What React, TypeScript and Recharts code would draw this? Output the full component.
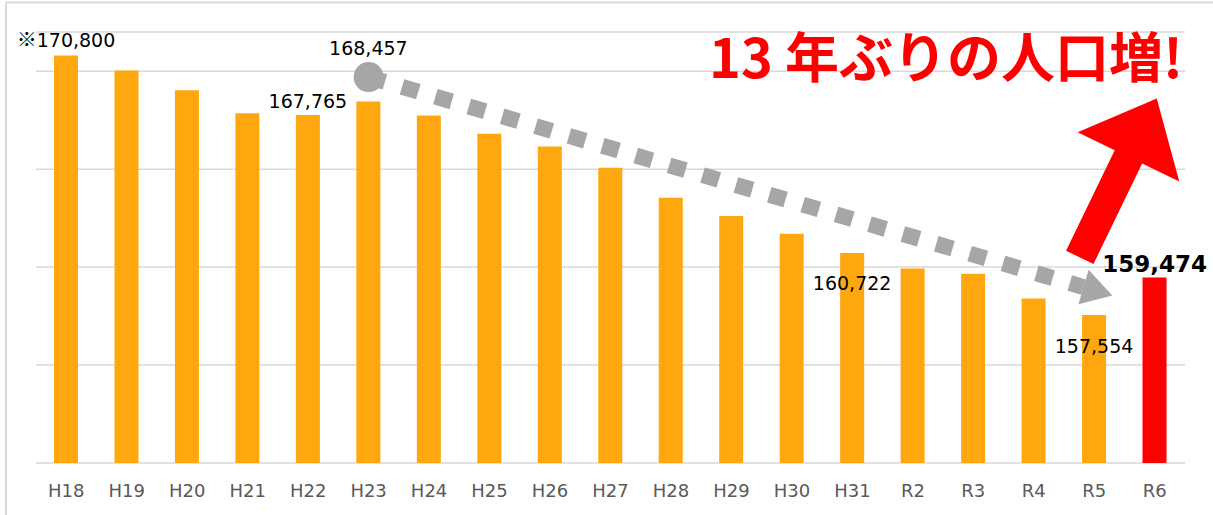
import React from 'react';
import {
  BarChart,
  Bar,
  XAxis,
  YAxis,
  CartesianGrid,
  Cell,
  LabelList,
  ReferenceDot,
  ReferenceLine,
  Customized,
} from 'recharts';

// ---- data ----
const categories = ['H18', 'H19', 'H20', 'H21', 'H22', 'H23', 'H24', 'H25', 'H26', 'H27', 'H28', 'H29', 'H30', 'H31', 'R2', 'R3', 'R4', 'R5', 'R6'];
const population = [170800, 170030, 169031, 167857, 167765, 168457, 167740, 166806, 166158, 165071, 163541, 162602, 161704, 160722, 159934, 159663, 158403, 157554, 159474];
const yTicks = [150000, 155000, 160000, 165000, 170000];
const yDomain = [150000, 172000];
const highlightCategory = 'R6';
const titleText = '13 年ぶりの人口増!';
// trend annotation anchors (category, value)
const trendStart = { category: 'H23', value: 169700 };
const trendEnd = { category: 'R6', value: 157912 };
const labelledCategories = ['H18', 'H22', 'H23', 'H31', 'R5', 'R6'];

const data = categories.map((c, i) => ({ category: c, population: population[i] }));

const FONT = '"DejaVu Sans", Verdana, sans-serif';
const CJK = '"Noto Sans CJK JP", sans-serif';
const W = 1213;
const H = 515;

const labelStyle: Record<string, { dy: number; prefix?: string; bold?: boolean }> = {
  H18: { dy: -9, prefix: '※' },
  H22: { dy: -7 },
  H23: { dy: -46 },
  H31: { dy: 37 },
  R5: { dy: 37.5 },
  R6: { dy: -5, bold: true },
};

const renderLabel = (props: any) => {
  const vb = props.viewBox || {};
  const x = props.x ?? vb.x;
  const y = props.y ?? vb.y;
  const width = props.width ?? vb.width;
  const idx = props.index;
  const cat = categories[idx];
  if (!labelledCategories.includes(cat)) return null;
  const st = labelStyle[cat];
  const txt = Number(props.value).toLocaleString('en-US');
  return (
    <text
      x={x + width / 2}
      y={y + st.dy}
      textAnchor="middle"
      fontFamily={FONT}
      fontSize={st.bold ? 23 : 19}
      fontWeight={st.bold ? 'bold' : 'normal'}
      fill="#000"
    >
      {st.prefix ? <tspan fontFamily={CJK} fontSize={20}>{st.prefix}</tspan> : null}
      <tspan>{txt}</tspan>
    </text>
  );
};

const TrendArrow = (props: any) => {
  const { x1, y1, x2, y2 } = props;
  const t = 0.946;
  const tx = x1 + (x2 - x1) * t;
  const ty = y1 + (y2 - y1) * t;
  const dx = tx - x1;
  const dy = ty - y1;
  const len = Math.sqrt(dx * dx + dy * dy);
  const ux = dx / len;
  const uy = dy / len;
  const nx = -uy;
  const ny = ux;
  const headLen = 30;
  const headHalf = 18;
  const bx = tx - ux * headLen;
  const by = ty - uy * headLen;
  return (
    <g>
      <line
        x1={x1}
        y1={y1}
        x2={bx}
        y2={by}
        stroke="#A6A6A6"
        strokeWidth={16}
        strokeDasharray="17 17.8"
      />
      <polygon
        points={`${tx},${ty} ${bx + nx * headHalf},${by + ny * headHalf} ${bx - nx * headHalf},${by - ny * headHalf}`}
        fill="#A6A6A6"
      />
    </g>
  );
};

const UpArrow = (props: any) => {
  const { cx, cy } = props;
  // arrow geometry relative to the top of the highlighted bar
  const tailX = cx - 75;
  const tailY = cy - 20;
  const tipX = cx + 2;
  const tipY = cy - 179;
  const dx = tipX - tailX;
  const dy = tipY - tailY;
  const len = Math.sqrt(dx * dx + dy * dy);
  const ux = dx / len;
  const uy = dy / len;
  const nx = -uy;
  const ny = ux;
  const shaftHalf = 15.25;
  const headLen = 65;
  const headHalf = 56.5;
  const bx = tipX - ux * headLen;
  const by = tipY - uy * headLen;
  const pts = [
    [tailX + nx * shaftHalf, tailY + ny * shaftHalf],
    [bx + nx * shaftHalf, by + ny * shaftHalf],
    [bx + nx * headHalf, by + ny * headHalf],
    [tipX, tipY],
    [bx - nx * headHalf, by - ny * headHalf],
    [bx - nx * shaftHalf, by - ny * shaftHalf],
    [tailX - nx * shaftHalf, tailY - ny * shaftHalf],
  ];
  return <polygon points={pts.map((p) => p.join(',')).join(' ')} fill="#FF0000" />;
};

const Decorations = () => (
  <g>
    <path d={`M6 ${H} V2.5 H${W}`} stroke="#D9D9D9" strokeWidth={2} fill="none" />
    <text
      x={1183}
      y={78}
      textAnchor="end"
      fontFamily={CJK}
      fontWeight="bold"
      fontSize={54}
      fill="#FF0000"
    >
      {titleText}
    </text>
  </g>
);

export default function App() {
  return (
    <div style={{ position: 'fixed', left: 0, top: 0, width: W, height: H, background: '#fff' }}>
      <BarChart
        width={W}
        height={H}
        data={data}
        margin={{ top: 32, right: 28, bottom: 22, left: 36 }}
        barCategoryGap={0}
      >
        <CartesianGrid vertical={false} stroke="#D9D9D9" strokeWidth={1.5} />
        <XAxis
          dataKey="category"
          height={30}
          axisLine={false}
          tickLine={false}
          tickSize={0}
          tickMargin={21}
          interval={0}
          tick={{ fontFamily: FONT, fontSize: 18, fill: '#595959' }}
        />
        <YAxis hide domain={yDomain} ticks={yTicks} allowDataOverflow />
        <Bar dataKey="population" barSize={24} fill="#FFA70F" isAnimationActive={false}>
          {data.map((d) => (
            <Cell key={d.category} fill={d.category === highlightCategory ? '#FF0000' : '#FFA70F'} />
          ))}
          <LabelList dataKey="population" content={renderLabel} />
        </Bar>
        <ReferenceLine
          segment={[
            { x: trendStart.category, y: trendStart.value },
            { x: trendEnd.category, y: trendEnd.value },
          ]}
          ifOverflow="visible"
          shape={TrendArrow}
        />
        <ReferenceDot
          x={trendStart.category}
          y={trendStart.value}
          r={15}
          fill="#A6A6A6"
          stroke="none"
          ifOverflow="visible"
        />
        <ReferenceDot
          x={highlightCategory}
          y={population[categories.indexOf(highlightCategory)]}
          r={0}
          ifOverflow="visible"
          shape={UpArrow}
        />
        <Customized component={Decorations} />
      </BarChart>
    </div>
  );
}
